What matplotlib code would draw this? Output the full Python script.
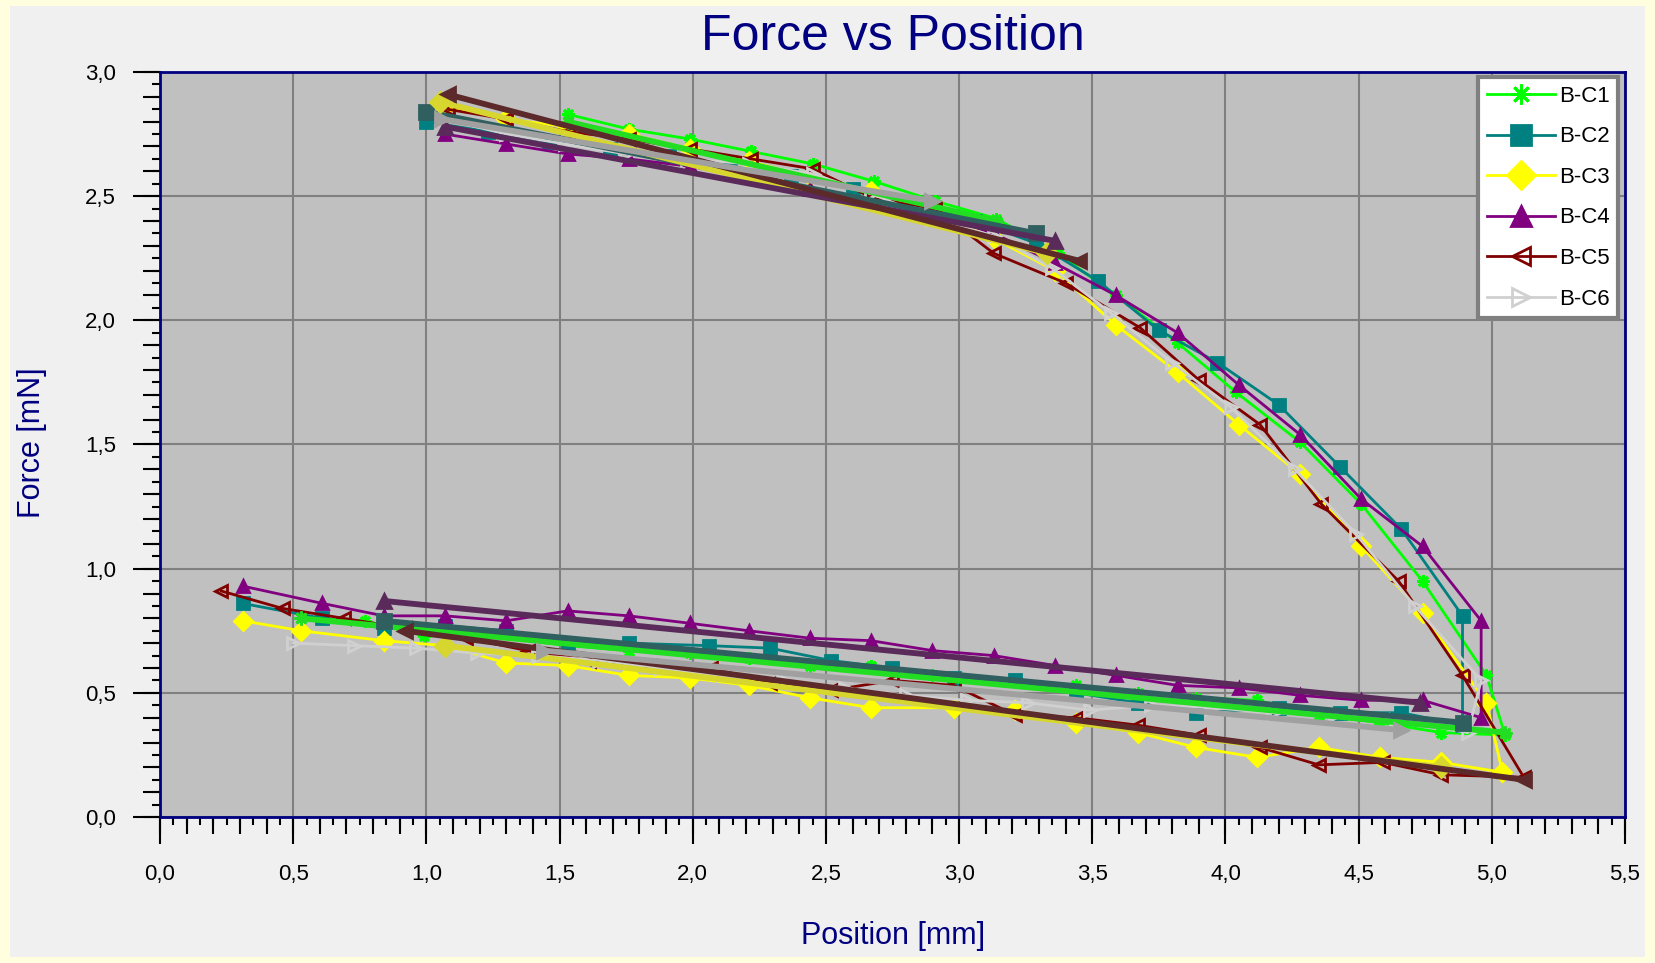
import numpy as np
import matplotlib.pyplot as plt
import matplotlib.patches as mpatches
from matplotlib.ticker import MultipleLocator, FuncFormatter

plt.rcParams['font.family'] = ['Liberation Sans', 'DejaVu Sans']

# loading + unloading path for each sample (position mm, force mN)
c1_x = [1.53, 1.76, 1.99, 2.22, 2.45, 2.68, 2.91, 3.14, 3.37, 3.59, 3.82, 4.04, 4.28, 4.51, 4.74, 4.98, 5.05,
        4.81, 4.58, 4.35, 4.12, 3.89, 3.67, 3.44, 3.21, 2.90, 2.67, 2.44, 2.21, 1.99, 1.76, 1.53, 1.22, 0.99, 0.77, 0.53]
c1_y = [2.83, 2.77, 2.73, 2.68, 2.63, 2.56, 2.48, 2.41, 2.27, 2.10, 1.91, 1.71, 1.51, 1.26, 0.95, 0.57, 0.33,
        0.34, 0.38, 0.41, 0.47, 0.48, 0.50, 0.53, 0.55, 0.57, 0.61, 0.61, 0.64, 0.66, 0.67, 0.69, 0.73, 0.73, 0.79, 0.80]

c2_x = [1.00, 1.23, 1.46, 1.69, 1.91, 2.14, 2.37, 2.60, 2.83, 3.06, 3.29, 3.52, 3.75, 3.97, 4.20, 4.43, 4.66, 4.89,
        4.89, 4.66, 4.43, 4.20, 3.89, 3.67, 3.44, 3.21, 2.98, 2.75, 2.52, 2.29, 2.06, 1.76, 1.53, 1.30, 1.07, 0.84, 0.61, 0.31]
c2_y = [2.80, 2.76, 2.72, 2.69, 2.66, 2.62, 2.58, 2.53, 2.47, 2.40, 2.31, 2.16, 1.96, 1.83, 1.66, 1.41, 1.16, 0.81,
        0.37, 0.42, 0.42, 0.44, 0.42, 0.46, 0.50, 0.55, 0.56, 0.60, 0.63, 0.68, 0.69, 0.70, 0.70, 0.75, 0.77, 0.76, 0.80, 0.86]

c3_x = [1.07, 1.30, 1.53, 1.76, 1.99, 2.21, 2.44, 2.67, 2.90, 3.13, 3.36, 3.59, 3.82, 4.05, 4.28, 4.51, 4.74, 4.98, 5.04,
        4.81, 4.58, 4.35, 4.12, 3.89, 3.67, 3.44, 3.21, 2.98, 2.67, 2.44, 2.21, 1.99, 1.76, 1.53, 1.30, 1.07, 0.84, 0.53, 0.31]
c3_y = [2.86, 2.81, 2.78, 2.75, 2.69, 2.64, 2.58, 2.52, 2.44, 2.33, 2.20, 1.98, 1.79, 1.58, 1.38, 1.09, 0.82, 0.46, 0.18,
        0.22, 0.24, 0.28, 0.24, 0.28, 0.34, 0.38, 0.43, 0.44, 0.44, 0.48, 0.53, 0.56, 0.57, 0.61, 0.62, 0.69, 0.71, 0.75, 0.79]

c4_x = [1.07, 1.30, 1.53, 1.76, 1.99, 2.22, 2.44, 2.67, 2.90, 3.13, 3.36, 3.59, 3.82, 4.05, 4.28, 4.51, 4.74, 4.96,
        4.96, 4.74, 4.51, 4.28, 4.05, 3.82, 3.59, 3.36, 3.13, 2.90, 2.67, 2.44, 2.21, 1.99, 1.76, 1.53, 1.30, 1.07, 0.84, 0.61, 0.31]
c4_y = [2.75, 2.71, 2.67, 2.65, 2.62, 2.58, 2.53, 2.48, 2.43, 2.35, 2.23, 2.10, 1.95, 1.74, 1.54, 1.28, 1.09, 0.79,
        0.40, 0.47, 0.47, 0.49, 0.52, 0.53, 0.57, 0.61, 0.65, 0.67, 0.71, 0.72, 0.75, 0.78, 0.81, 0.83, 0.79, 0.81, 0.81, 0.86, 0.93]

c5_x = [1.08, 1.30, 1.53, 1.76, 1.99, 2.22, 2.45, 2.68, 2.91, 3.13, 3.40, 3.68, 3.90, 4.13, 4.36, 4.65, 4.89, 5.12,
        4.81, 4.59, 4.35, 4.13, 3.90, 3.67, 3.44, 3.21, 2.98, 2.75, 2.52, 2.29, 2.07, 1.84, 1.61, 1.38, 1.15, 0.92, 0.69, 0.46, 0.23]
c5_y = [2.85, 2.81, 2.76, 2.73, 2.69, 2.65, 2.61, 2.49, 2.45, 2.27, 2.15, 1.97, 1.76, 1.58, 1.26, 0.95, 0.57, 0.16,
        0.17, 0.22, 0.21, 0.28, 0.33, 0.37, 0.40, 0.41, 0.53, 0.55, 0.51, 0.54, 0.60, 0.61, 0.63, 0.67, 0.72, 0.76, 0.80, 0.84, 0.91]

c6_x = [1.07, 1.30, 1.52, 1.75, 1.98, 2.21, 2.45, 2.67, 2.90, 3.13, 3.35, 3.57, 3.80, 4.02, 4.26, 4.49, 4.71, 4.96,
        4.91, 4.64, 4.41, 4.18, 3.95, 3.72, 3.49, 3.26, 3.03, 2.80, 2.57, 2.34, 2.11, 1.88, 1.65, 1.42, 1.19, 0.96, 0.73, 0.50]
c6_y = [2.81, 2.75, 2.71, 2.67, 2.65, 2.63, 2.59, 2.51, 2.41, 2.34, 2.21, 2.03, 1.83, 1.65, 1.40, 1.14, 0.85, 0.55,
        0.34, 0.39, 0.41, 0.42, 0.44, 0.45, 0.43, 0.46, 0.47, 0.49, 0.52, 0.55, 0.57, 0.60, 0.63, 0.65, 0.66, 0.68, 0.69, 0.70]

# straight fits: upper (loading) and lower (unloading), [x_start, x_end], [y_start, y_end]
fit_up_x = [[1.53, 3.14], [1.00, 3.29], [1.05, 3.33], [1.07, 3.36], [1.08, 3.45], [1.06, 2.90]]
fit_up_y = [[2.80, 2.40], [2.84, 2.35], [2.88, 2.27], [2.78, 2.32], [2.91, 2.24], [2.81, 2.48]]
fit_lo_x = [[0.53, 5.05], [0.84, 4.89], [1.07, 4.81], [0.84, 4.73], [0.92, 5.12], [1.44, 4.66]]
fit_lo_y = [[0.80, 0.34], [0.79, 0.38], [0.69, 0.20], [0.87, 0.46], [0.75, 0.15], [0.67, 0.35]]

names = ['B-C1', 'B-C2', 'B-C3', 'B-C4', 'B-C5', 'B-C6']
xs = [c1_x, c2_x, c3_x, c4_x, c5_x, c6_x]
ys = [c1_y, c2_y, c3_y, c4_y, c5_y, c6_y]
colors = ['#00FF00', '#008080', '#FFFF00', '#800080', '#800000', '#D0D0D0']
fit_colors = ['#22DD22', '#2F5F5F', '#D6D62E', '#5A2A5A', '#5C2A2A', '#A0A0A0']
markers = [(8, 2, 0), 's', 'D', '^', '<', '>']
hollow = [False, False, False, False, True, True]

navy = '#000080'
W, H = 1655, 963
fig = plt.figure(figsize=(W / 100, H / 100), dpi=100, facecolor='#FFFFE0')
fig.add_artist(mpatches.Rectangle((10 / W, 6 / H), 1635 / W, 951 / H, transform=fig.transFigure,
                                  facecolor='#F0F0F0', edgecolor='none', zorder=0))

ax = fig.add_axes([160 / W, 1 - 817 / H, 1465 / W, 745 / H])
ax.set_facecolor('#C0C0C0')
ax.set_xlim(0, 5.5)
ax.set_ylim(0, 3.0)

handles = []
for i in range(6):
    mfc = 'none' if hollow[i] else colors[i]
    ms = 8 if markers[i] in ('<', '>') else 9
    ln, = ax.plot(xs[i], ys[i], color=colors[i], lw=2, marker=markers[i], ms=ms,
                  mfc=mfc, mec=colors[i], mew=2, label=names[i], zorder=3)
    handles.append(ln)

for i in range(6):
    for fx, fy in [(fit_up_x[i], fit_up_y[i]), (fit_lo_x[i], fit_lo_y[i])]:
        ax.plot(fx, fy, color=fit_colors[i], lw=4.2, marker=markers[i], ms=10,
                mfc=fit_colors[i], mec=fit_colors[i], mew=2, zorder=4, solid_capstyle='butt')

# grid and ticks
ax.xaxis.set_major_locator(MultipleLocator(0.5))
ax.xaxis.set_minor_locator(MultipleLocator(0.05))
ax.yaxis.set_major_locator(MultipleLocator(0.5))
ax.yaxis.set_minor_locator(MultipleLocator(0.05))
comma = FuncFormatter(lambda v, p: f'{v:.1f}'.replace('.', ','))
ax.xaxis.set_major_formatter(comma)
ax.yaxis.set_major_formatter(comma)
ax.grid(which='major', color='#808080', lw=1.5)
ax.set_axisbelow(True)
ax.tick_params(which='major', length=19.5, width=1.5, color='black', labelsize=16)
ax.tick_params(which='minor', length=6, width=1.5, color='black')
ax.tick_params(axis='x', which='major', pad=14)
ax.tick_params(axis='y', which='major', pad=12)

secx = ax.secondary_xaxis('bottom')
secx.set_xticks(np.arange(0, 5.51, 0.1))
secx.tick_params(length=12.5, width=1.5, labelbottom=False)
secx.spines['bottom'].set_visible(False)
secy = ax.secondary_yaxis('left')
secy.set_yticks(np.arange(0, 3.01, 0.1))
secy.tick_params(length=12.5, width=1.5, labelleft=False)
secy.spines['left'].set_visible(False)

for s in ax.spines.values():
    s.set_color(navy)
    s.set_linewidth(2)

leg = ax.legend(handles=handles, loc='upper right', bbox_to_anchor=(0.9955, 0.9935), borderaxespad=0,
                fontsize=16, handlelength=3.1, handletextpad=0.15, markerscale=1.6, labelspacing=0.88,
                numpoints=1, fancybox=False, framealpha=1, edgecolor='#808080', borderpad=0.4)
leg.get_frame().set_linewidth(3)
leg.set_zorder(10)

fig.text(893 / W, 1 - 37 / H, 'Force vs Position', ha='center', va='center', fontsize=36, color=navy)
fig.text(893 / W, 1 - 936 / H, 'Position [mm]', ha='center', va='center', fontsize=22, color=navy)
fig.text(32 / W, 1 - 443 / H, 'Force [mN]', ha='center', va='center', fontsize=22, color=navy, rotation=90)

fig.savefig('out.png', dpi=100, facecolor=fig.get_facecolor())
